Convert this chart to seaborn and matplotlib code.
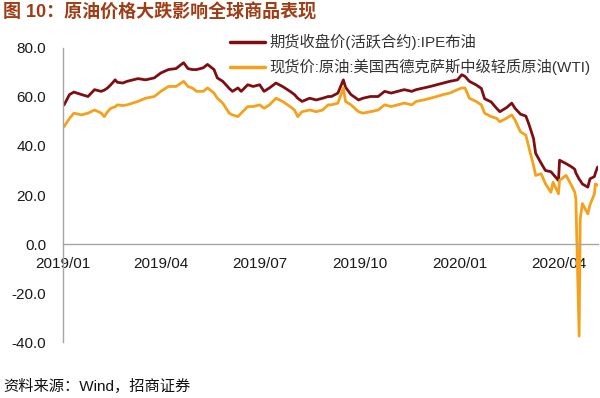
import pandas as pd
import matplotlib
matplotlib.use("Agg")
import matplotlib.pyplot as plt
import matplotlib.dates as mdates
from matplotlib.ticker import FormatStrFormatter
import seaborn as sns

# Values (USD/barrel)
dates = [
    "2019-01-02", "2019-01-07", "2019-01-11", "2019-01-18", "2019-01-24", "2019-01-30",
    "2019-02-05", "2019-02-08", "2019-02-11", "2019-02-14", "2019-02-18", "2019-02-20",
    "2019-02-25", "2019-03-01", "2019-03-11", "2019-03-18", "2019-03-26", "2019-04-01",
    "2019-04-08", "2019-04-15", "2019-04-22", "2019-04-26", "2019-04-30", "2019-05-04",
    "2019-05-10", "2019-05-14", "2019-05-20", "2019-05-23", "2019-05-28", "2019-06-03",
    "2019-06-06", "2019-06-11", "2019-06-14", "2019-06-20", "2019-06-25", "2019-07-01",
    "2019-07-05", "2019-07-10", "2019-07-16", "2019-07-22", "2019-07-29", "2019-08-02",
    "2019-08-05", "2019-08-09", "2019-08-16", "2019-08-22", "2019-08-28", "2019-09-02",
    "2019-09-05", "2019-09-11", "2019-09-16", "2019-09-18", "2019-09-23", "2019-09-30",
    "2019-10-04", "2019-10-11", "2019-10-18", "2019-10-24", "2019-10-30", "2019-11-05",
    "2019-11-11", "2019-11-18", "2019-11-22", "2019-11-29", "2019-12-05", "2019-12-11",
    "2019-12-17", "2019-12-23", "2019-12-30", "2020-01-03", "2020-01-06", "2020-01-10",
    "2020-01-16", "2020-01-21", "2020-01-24", "2020-01-30", "2020-02-04", "2020-02-07",
    "2020-02-13", "2020-02-18", "2020-02-21", "2020-02-26", "2020-03-02", "2020-03-05",
    "2020-03-09", "2020-03-11", "2020-03-16", "2020-03-20", "2020-03-25", "2020-03-27",
    "2020-04-01", "2020-04-02", "2020-04-08", "2020-04-13", "2020-04-16", "2020-04-17",
    "2020-04-20", "2020-04-21", "2020-04-23", "2020-04-28", "2020-04-30", "2020-05-04",
    "2020-05-05", "2020-05-07",
]

brent = [
    56.8, 61.0, 62.0, 61.0, 60.2, 63.0,
    62.3, 62.8, 63.7, 65.0, 67.0, 66.0,
    65.7, 66.4, 67.5, 67.0, 67.8, 69.8,
    71.2, 71.6, 74.0, 71.6, 71.2, 71.2,
    71.9, 73.3, 71.2, 67.8, 66.4, 63.5,
    62.3, 63.7, 62.3, 65.0, 64.3, 65.0,
    62.3, 63.7, 65.7, 64.3, 62.3, 61.0,
    59.5, 58.2, 59.5, 58.8, 59.5, 60.2,
    60.2, 61.6, 67.0, 64.0, 61.0, 58.8,
    59.5, 60.2, 60.2, 62.3, 61.6, 62.3,
    63.0, 62.3, 63.0, 63.7, 64.3, 65.0,
    65.7, 66.4, 67.0, 69.1, 68.4, 66.4,
    65.0, 63.5, 59.3, 58.0, 55.4, 54.0,
    55.6, 57.5, 55.4, 53.0, 52.2, 48.6,
    43.1, 37.0, 33.0, 30.0, 29.5, 28.5,
    25.9, 34.2, 32.8, 31.5, 30.5, 29.0,
    26.5, 25.9, 24.5, 23.2, 26.6, 27.5,
    29.0, 31.4,
]

wti = [
    47.9, 51.3, 53.4, 52.7, 53.4, 54.7,
    53.5, 52.0, 54.0, 55.4, 56.0, 56.8,
    56.5, 56.8, 58.2, 59.5, 60.2, 62.3,
    64.3, 64.3, 66.4, 64.3, 63.7, 62.3,
    62.3, 63.7, 61.6, 59.5, 57.5, 53.4,
    52.7, 52.0, 53.4, 56.1, 56.1, 56.8,
    55.4, 56.8, 59.5, 58.2, 56.1, 54.7,
    52.0, 54.0, 54.7, 54.0, 54.7, 56.8,
    56.8, 57.5, 63.7, 58.2, 56.8, 54.0,
    53.4, 54.0, 54.7, 56.8, 56.1, 56.8,
    57.5, 56.8, 58.2, 58.8, 59.5, 60.2,
    61.0, 61.6, 63.0, 63.7, 63.7, 59.5,
    58.2, 56.8, 53.4, 52.0, 51.3, 49.9,
    51.3, 52.7, 50.6, 45.8, 44.4, 39.0,
    32.1, 28.0, 28.7, 24.6, 21.1, 25.2,
    20.5, 26.0, 28.0, 23.9, 21.1, 18.4,
    -37.6, 10.2, 16.5, 12.3, 16.0, 20.4,
    24.5, 24.0,
]

series_names = ["期货收盘价(活跃合约):IPE布油", "现货价:原油:美国西德克萨斯中级轻质原油(WTI)"]
line_colors = ["#7E0E12", "#F5A11C"]
xtick_dates = ["2019-01-01", "2019-04-01", "2019-07-01", "2019-10-01", "2020-01-01", "2020-04-01"]
yticks = [-40, -20, 0, 20, 40, 60, 80]

title = "图 10：原油价格大跌影响全球商品表现"
source = "资料来源：Wind，招商证券"

sns.set_style("white")
plt.rcParams["font.family"] = ["Liberation Sans", "Noto Sans CJK SC", "DejaVu Sans"]
plt.rcParams["axes.unicode_minus"] = False

df = pd.DataFrame({
    "date": pd.to_datetime(dates * 2),
    "value": brent + wti,
    "series": [series_names[0]] * len(brent) + [series_names[1]] * len(wti),
})

fig = plt.figure(figsize=(6, 3.98), dpi=100)
ax = fig.add_axes([0.105, 0.1407, 0.891, 0.7387])

sns.lineplot(data=df, x="date", y="value", hue="series", hue_order=series_names,
             palette=line_colors, linewidth=2.0, ax=ax)

ax.set_xlim(pd.Timestamp("2019-01-01"), pd.Timestamp("2020-05-07"))
ax.set_ylim(-40, 80)
ax.set_yticks(yticks)
ax.yaxis.set_major_formatter(FormatStrFormatter("%.1f"))
ax.set_xticks(pd.to_datetime(xtick_dates))
ax.xaxis.set_major_formatter(mdates.DateFormatter("%Y/%m"))
ax.set_xlabel("")
ax.set_ylabel("")

axis_grey = "#A6A6A6"
for side in ["top", "right"]:
    ax.spines[side].set_visible(False)
ax.spines["bottom"].set_position(("data", 0))
ax.spines["left"].set_color(axis_grey)
ax.spines["bottom"].set_color(axis_grey)
ax.spines["left"].set_linewidth(1.0)
ax.spines["bottom"].set_linewidth(1.0)
ax.tick_params(axis="both", which="major", direction="out", length=4, width=1.0,
               color=axis_grey, labelsize=11, labelcolor="#1A1A1A")
ax.tick_params(axis="y", pad=8)
ax.tick_params(axis="x", pad=5)

leg = ax.legend(loc="upper left", bbox_to_anchor=(230 / 600, 1 - 34 / 398),
                bbox_transform=fig.transFigure, frameon=False, fontsize=11,
                handlelength=2.3, handletextpad=0.25, labelspacing=0.55,
                borderpad=0, borderaxespad=0)
for line in leg.get_lines():
    line.set_linewidth(2.5)
for txt in leg.get_texts():
    txt.set_color("#333333")

fig.text(0.005, 1 - 13 / 398, title, fontsize=13, fontweight="bold",
         color="#9E3D16", va="center", ha="left")
fig.text(0.005, 1 - 386 / 398, source, fontsize=11, color="#111111",
         va="center", ha="left")

fig.savefig("out.png", dpi=100)
